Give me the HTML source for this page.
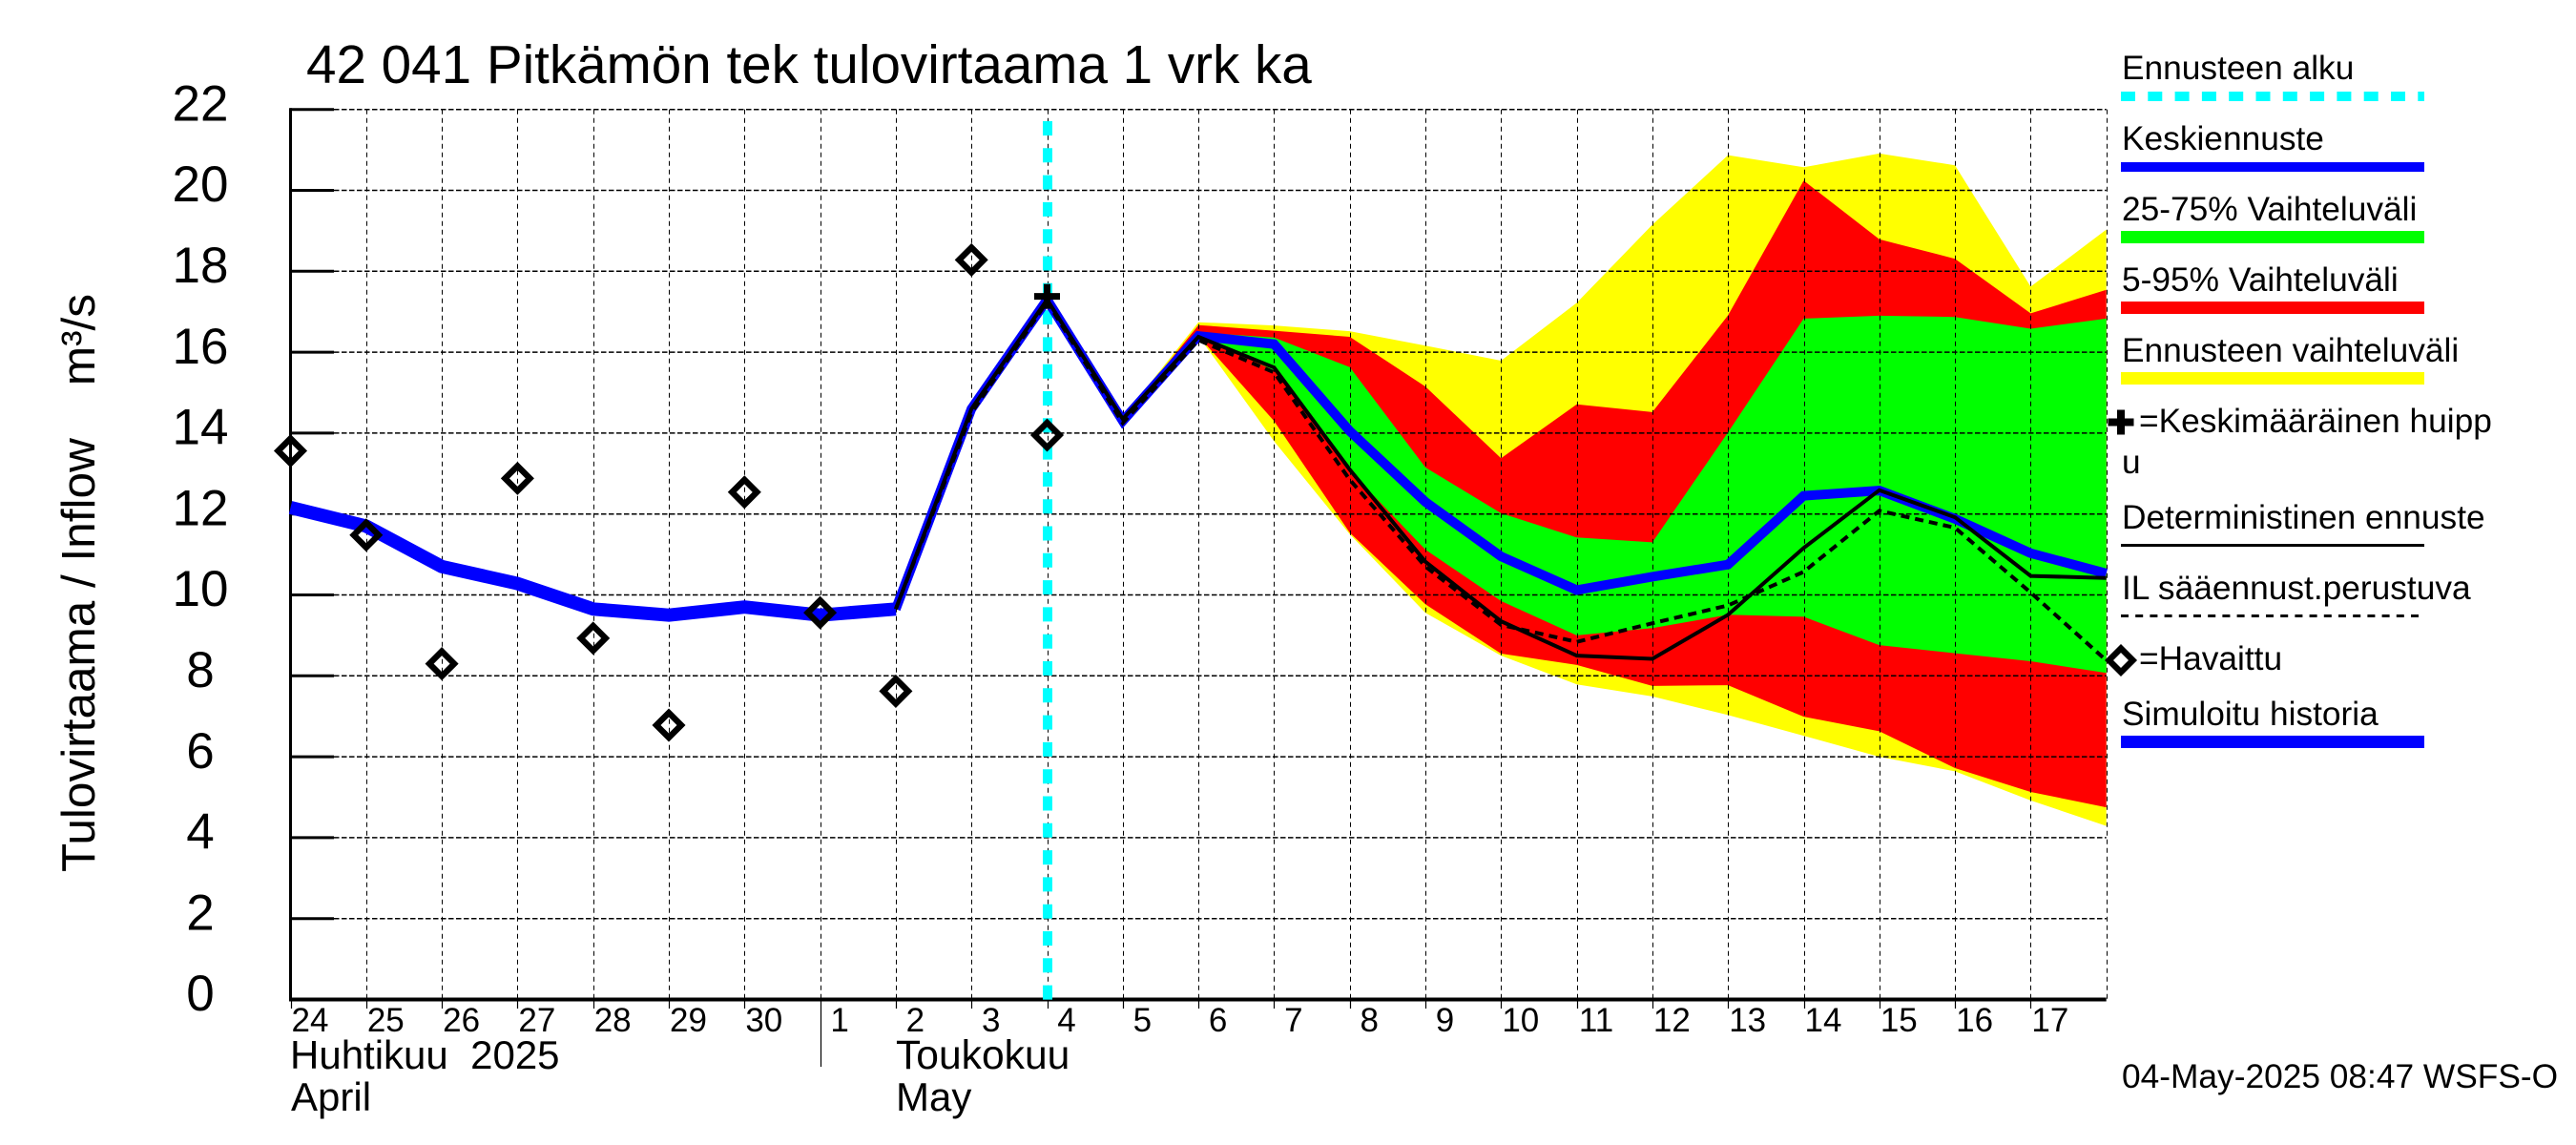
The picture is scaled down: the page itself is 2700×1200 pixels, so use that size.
<!DOCTYPE html>
<html lang="fi">
<head>
<meta charset="utf-8">
<title>42 041 Pitkämön tek tulovirtaama 1 vrk ka</title>
<style>
html,body{margin:0;padding:0;background:#fff;}
svg{display:block;}
text{font-family:"Liberation Sans",Arial,sans-serif;fill:#000;}
.leg{font-size:35.3px;}
</style>
</head>
<body>
<svg id="chart" xmlns="http://www.w3.org/2000/svg" width="2700" height="1200" viewBox="0 0 2700 1200">
  <rect x="0" y="0" width="2700" height="1200" fill="#fff"/>
  <g id="bands"></g>
  <g id="grid"></g>
  <g id="axes"></g>
  <g id="start"></g>
  <g id="series"></g>
  <g id="marks"></g>

  <text x="321" y="87" font-size="56.6">42 041 Pitkämön tek tulovirtaama 1 vrk ka</text>
  <text transform="translate(99 914) rotate(-90)" font-size="49.5" xml:space="preserve">Tulovirtaama / Inflow    m³/s</text>

  <text x="304" y="1120" font-size="42" xml:space="preserve">Huhtikuu  2025</text>
  <text x="305" y="1164" font-size="42">April</text>
  <text x="939" y="1120" font-size="42.6">Toukokuu</text>
  <text x="939" y="1164" font-size="42">May</text>

  <g>
    <text class="leg" x="2224" y="83">Ennusteen alku</text>
    <line x1="2223" x2="2541" y1="101" y2="101" stroke="#00ffff" stroke-width="10" stroke-dasharray="15 13.3"/>
    <text class="leg" x="2224" y="157">Keskiennuste</text>
    <rect x="2223" y="170" width="318" height="10" fill="#0000ff"/>
    <text class="leg" x="2224" y="231">25-75% Vaihteluväli</text>
    <rect x="2223" y="242" width="318" height="13" fill="#00ff00"/>
    <text class="leg" x="2224" y="305">5-95% Vaihteluväli</text>
    <rect x="2223" y="316" width="318" height="13" fill="#ff0000"/>
    <text class="leg" x="2224" y="379">Ennusteen vaihteluväli</text>
    <rect x="2223" y="390" width="318" height="13" fill="#ffff00"/>
    <path d="M2209.5 442.5H2236.5M2223 429.5V455.5" stroke="#000" stroke-width="8" fill="none"/>
    <text class="leg" x="2242" y="453">=Keskimääräinen huipp</text>
    <text class="leg" x="2224" y="496">u</text>
    <text class="leg" x="2224" y="554">Deterministinen ennuste</text>
    <line x1="2223" x2="2541" y1="571.5" y2="571.5" stroke="#000" stroke-width="3"/>
    <text class="leg" x="2224" y="628">IL sääennust.perustuva</text>
    <line x1="2223" x2="2541" y1="645.5" y2="645.5" stroke="#000" stroke-width="3" stroke-dasharray="8 7.2"/>
    <polygon points="2223,679.5 2235.5,692 2223,704.5 2210.5,692" fill="none" stroke="#000" stroke-width="6.4"/>
    <text class="leg" x="2242" y="702">=Havaittu</text>
    <text class="leg" x="2224" y="760">Simuloitu historia</text>
    <rect x="2223" y="771" width="318" height="13" fill="#0000ff"/>
  </g>
  <text class="leg" x="2224" y="1140">04-May-2025 08:47 WSFS-O</text>
</svg>
<script>
// ---- chart data ----
const dayLabels = ["24","25","26","27","28","29","30","1","2","3","4","5","6","7","8","9","10","11","12","13","14","15","16","17"];
const yTickValues = [0,2,4,6,8,10,12,14,16,18,20,22];
const forecastStartDay = 10;
const simulatedHistory = [12.16,11.7,10.7,10.28,9.65,9.5,9.7,9.5,9.65];
const observed = [13.56,11.48,8.3,12.88,8.93,6.78,12.54,9.56,7.62,18.28,13.95];
const peakValue = 17.38;
// series below start at day index 8 (2 May)
const meanForecast = [9.65,14.6,17.3,14.3,16.4,16.2,14.05,12.3,10.95,10.12,10.45,10.75,12.45,12.58,11.88,11.03,10.53];
const deterministic = [9.65,14.6,17.3,14.35,16.38,15.62,13.1,10.82,9.35,8.5,8.42,9.51,11.16,12.59,11.92,10.47,10.42];
const ilForecast = [9.65,14.5,17.25,14.25,16.3,15.5,12.85,10.7,9.26,8.84,9.3,9.74,10.57,12.08,11.66,10.06,8.38];
// bands start at day index 10 (4 May)
const rangeTop = [17.35,14.38,16.74,16.66,16.52,16.16,15.79,17.22,19.15,20.87,20.57,20.91,20.62,17.62,19.03];
const range95Top = [17.33,14.35,16.67,16.53,16.38,15.15,13.38,14.71,14.52,16.91,20.24,18.79,18.31,16.96,17.54];
const range75Top = [17.3,14.32,16.49,16.36,15.63,13.15,12.02,11.42,11.3,14.02,16.83,16.9,16.87,16.58,16.83];
const range25Bottom = [17.3,14.3,16.4,15.55,13.07,11.12,9.85,9.0,9.18,9.51,9.46,8.76,8.56,8.36,8.07];
const range5Bottom = [17.28,14.28,16.4,14.3,11.54,9.77,8.55,8.27,7.75,7.77,6.99,6.63,5.72,5.13,4.75];
const rangeBottom = [17.27,14.25,16.4,13.8,11.5,9.56,8.5,7.79,7.49,7.03,6.52,6.0,5.64,4.92,4.29];

// ---- axis functions ----
function xScale(i){ return 304.5 + 79.3 * i; }
function yScale(v){ return 1047.5 - 42.4 * v; }

const NS = "http://www.w3.org/2000/svg";
function make(tag, parent, attrs){
  const el = document.createElementNS(NS, tag);
  for (const k in attrs) el.setAttribute(k, attrs[k]);
  parent.appendChild(el);
  return el;
}
function linePoints(values, startIndex){
  return values.map(function(v, k){ return xScale(startIndex + k).toFixed(1) + "," + yScale(v).toFixed(1); }).join(" ");
}
function bandPoints(upper, lower, startIndex){
  const up = upper.map(function(v, k){ return xScale(startIndex + k).toFixed(1) + "," + yScale(v).toFixed(1); });
  const low = lower.map(function(v, k){ return xScale(startIndex + k).toFixed(1) + "," + yScale(v).toFixed(1); }).reverse();
  return up.concat(low).join(" ");
}

const bands = document.getElementById("bands");
const grid = document.getElementById("grid");
const startLayer = document.getElementById("start");
const series = document.getElementById("series");
const axes = document.getElementById("axes");
const marks = document.getElementById("marks");

// bands
const bandYellow = make("polygon", bands, {points: bandPoints(rangeTop, rangeBottom, forecastStartDay), fill: "#ffff00"});


const bandRed = make("polygon", bands, {points: bandPoints(range95Top, range5Bottom, forecastStartDay), fill: "#ff0000"});


const bandGreen = make("polygon", bands, {points: bandPoints(range75Top, range25Bottom, forecastStartDay), fill: "#00ff00"});



// horizontal grid lines, major ticks, tick labels
yTickValues.forEach(function(v){
  const y = yScale(v);
  if (v > 0) {
    const g = make("line", grid, {x1: 350, x2: xScale(dayLabels.length), y1: y, y2: y, stroke: "#000", "stroke-width": 1.5, "stroke-dasharray": "5.5 2.5"});
    
    
    const t = make("line", axes, {x1: 304, x2: 350, y1: y, y2: y, stroke: "#000", "stroke-width": 3});
    
    
  }
  const lab = make("text", axes, {x: 210, y: y + 11.7, "font-size": 53, "text-anchor": "middle"});
  lab.textContent = String(v);
  
  
});

// vertical grid lines, day ticks, day labels
dayLabels.forEach(function(label, i){
  const x = xScale(i);
  if (i > 0) {
    const g = make("line", grid, {x1: Math.round(x) + 0.5, x2: Math.round(x) + 0.5, y1: yScale(22), y2: yScale(0), stroke: "#000", "stroke-width": 1, "stroke-dasharray": "5 4"});
    
    
  }
  const isMonthStart = label === "1";
  const t = make("line", axes, {x1: Math.round(x) + 0.5, x2: Math.round(x) + 0.5, y1: yScale(0), y2: isMonthStart ? 1118 : 1057, stroke: "#000", "stroke-width": 1.2});
  
  
  const lab = make("text", axes, {x: x + 20.5, y: 1081, "font-size": 35, "text-anchor": "middle"});
  lab.textContent = label;
  
  
});
const gridRight = make("line", grid, {x1: Math.round(xScale(24)) + 0.5, x2: Math.round(xScale(24)) + 0.5, y1: yScale(22), y2: yScale(0), stroke: "#000", "stroke-width": 1, "stroke-dasharray": "5 4"});



// axis lines
const yAxis = make("line", axes, {x1: 304.5, x2: 304.5, y1: yScale(22) - 1.5, y2: yScale(0) + 2, stroke: "#000", "stroke-width": 3});


const xAxis = make("line", axes, {x1: 303, x2: xScale(24), y1: yScale(0), y2: yScale(0), stroke: "#000", "stroke-width": 4});



// forecast start line
const startLine = make("line", startLayer, {x1: xScale(forecastStartDay) + 0.5, x2: xScale(forecastStartDay) + 0.5, y1: 127, y2: 1048, stroke: "#00ffff", "stroke-width": 10, "stroke-dasharray": "15 13.3"});



// line series
const histLine = make("polyline", series, {points: linePoints(simulatedHistory, 0), fill: "none", stroke: "#0000ff", "stroke-width": 14, "stroke-linejoin": "round"});


const meanLine = make("polyline", series, {points: linePoints(meanForecast, 8), fill: "none", stroke: "#0000ff", "stroke-width": 10, "stroke-linejoin": "miter"});


const detLine = make("polyline", series, {points: linePoints(deterministic, 8), fill: "none", stroke: "#000", "stroke-width": 4, "stroke-linejoin": "miter"});


const ilLine = make("polyline", series, {points: linePoints(ilForecast, 8), fill: "none", stroke: "#000", "stroke-width": 4, "stroke-dasharray": "9 6"});



// observed markers
observed.forEach(function(v, i){
  const cx = xScale(i), cy = yScale(v), r = 13;
  const d = make("polygon", marks, {points: cx + "," + (cy - r) + " " + (cx + r) + "," + cy + " " + cx + "," + (cy + r) + " " + (cx - r) + "," + cy, fill: "none", stroke: "#000", "stroke-width": 6.4});
  
  
});

// mean peak marker
const px = xScale(forecastStartDay), py = yScale(peakValue);
const peak = make("path", marks, {d: "M" + (px - 13.5) + " " + py + "H" + (px + 13.5) + "M" + px + " " + (py - 13) + "V" + (py + 13), stroke: "#000", "stroke-width": 7, fill: "none"});


</script>
</body>
</html>
